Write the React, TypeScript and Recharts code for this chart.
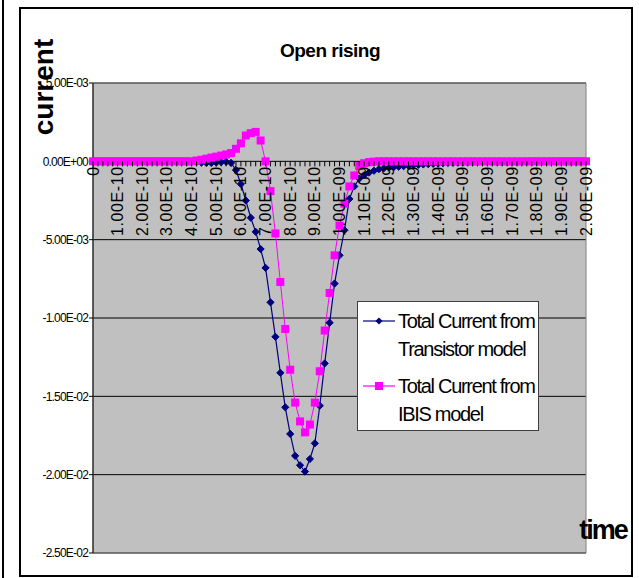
import React from 'react'
import { LineChart, Line, XAxis, YAxis, CartesianGrid, Legend, ReferenceArea } from 'recharts'

// time axis (s), one category per sample
const TIMES = [
  0, 2e-11, 4e-11, 6e-11, 8e-11,
  1e-10, 1.2e-10, 1.4e-10, 1.6e-10, 1.8e-10,
  2e-10, 2.2e-10, 2.4e-10, 2.6e-10, 2.8e-10,
  3e-10, 3.2e-10, 3.4e-10, 3.6e-10, 3.8e-10,
  4e-10, 4.2e-10, 4.4e-10, 4.6e-10, 4.8e-10,
  5e-10, 5.2e-10, 5.4e-10, 5.6e-10, 5.8e-10,
  6e-10, 6.2e-10, 6.4e-10, 6.6e-10, 6.8e-10,
  7e-10, 7.2e-10, 7.4e-10, 7.6e-10, 7.8e-10,
  8e-10, 8.2e-10, 8.4e-10, 8.6e-10, 8.8e-10,
  9e-10, 9.2e-10, 9.4e-10, 9.6e-10, 9.8e-10,
  1e-9, 1.02e-9, 1.04e-9, 1.06e-9, 1.08e-9,
  1.1e-9, 1.12e-9, 1.14e-9, 1.16e-9, 1.18e-9,
  1.2e-9, 1.22e-9, 1.24e-9, 1.26e-9, 1.28e-9,
  1.3e-9, 1.32e-9, 1.34e-9, 1.36e-9, 1.38e-9,
  1.4e-9, 1.42e-9, 1.44e-9, 1.46e-9, 1.48e-9,
  1.5e-9, 1.52e-9, 1.54e-9, 1.56e-9, 1.58e-9,
  1.6e-9, 1.62e-9, 1.64e-9, 1.66e-9, 1.68e-9,
  1.7e-9, 1.72e-9, 1.74e-9, 1.76e-9, 1.78e-9,
  1.8e-9, 1.82e-9, 1.84e-9, 1.86e-9, 1.88e-9,
  1.9e-9, 1.92e-9, 1.94e-9, 1.96e-9, 1.98e-9,
  2e-9,
]

const TRANSISTOR = [
  0, 0, 0, 0, 0, 0, 0, 0, 0, 0,
  0, 0, 0, 0, 0, 0, 0, 0, 0, 0,
  -0.00003, -0.00005, -0.00008, -0.0001, -0.0001, -0.00008, -0.00005, -0.00003, -0.0001, -0.00055,
  -0.00145, -0.0025, -0.0036, -0.0045, -0.0056, -0.0068, -0.009, -0.0112, -0.0135, -0.0157,
  -0.0174, -0.0188, -0.0194, -0.0198, -0.019, -0.018, -0.0156, -0.0129, -0.0103, -0.0078,
  -0.006, -0.0044, -0.0024, -0.0016, -0.0011, -0.00088, -0.00072, -0.0006, -0.0005, -0.00044,
  -0.0004, -0.00037, -0.00034, -0.00031, -0.00028, -0.00025, -0.00022, -0.0002, -0.00018, -0.00016,
  -0.00014, -0.00012, -0.0001, -0.00009, -0.00008, -0.00007, -0.00006, -0.00005, -0.00005, -0.00004,
  -0.00004, -0.00003, -0.00003, -0.00003, -0.00002, -0.00002, -0.00002, -0.00002, -0.00001, -0.00001,
  -0.00001, -0.00001, -0.00001, -0.00001, -0.00001, 0, 0, 0, 0, 0,
  0,
]

const IBIS = [
  0, 0, 0, 0, 0, 0, 0, 0, 0, 0,
  0, 0, 0, 0, 0, 0, 0, 0, 0, 0,
  0, 0.00005, 0.0001, 0.00017, 0.00024, 0.0003, 0.00037, 0.00044, 0.00053, 0.0008,
  0.00115, 0.00165, 0.0018, 0.00188, 0.00133, 0, -0.0019, -0.0046, -0.0077, -0.0107,
  -0.0133, -0.0154, -0.0166, -0.0173, -0.0168, -0.0154, -0.0134, -0.0108, -0.0084, -0.006,
  -0.0041, -0.0027, -0.0016, -0.0009, -0.0003, -0.00012, -0.00005, -0.00002, 0, 0,
  0, 0, 0, 0, 0, 0, 0, 0, 0, 0,
  0, 0, 0, 0, 0, 0, 0, 0, 0, 0,
  0, 0, 0, 0, 0, 0, 0, 0, 0, 0,
  0, 0, 0, 0, 0, 0, 0, 0, 0, 0,
  0,
]

const Y_TICKS = [0.005, 0, -0.005, -0.01, -0.015, -0.02, -0.025]
const SERIES_ORDER = ['transistor', 'ibis']

const NAVY = '#000080'
const MAGENTA = '#FF00FF'
const FONT = "'Liberation Sans', Arial, sans-serif"

const W = 639
const H = 578
const M = { top: 83, right: 53, bottom: 24, left: 0 }
const Y_MIN = -0.025
const Y_MAX = 0.005
const PLOT_BOTTOM = H - M.bottom - 1
// pixel row of the category axis, which crosses the value axis at 0
const Y0 = M.top + ((PLOT_BOTTOM - M.top) * Y_MAX) / (Y_MAX - Y_MIN)

const data = TIMES.map((t, i) => ({ t, transistor: TRANSISTOR[i], ibis: IBIS[i] }))

function sci(v: number, zero: string): string {
  if (v === 0) return zero
  const [m, e] = v.toExponential(2).split('e')
  const n = parseInt(e, 10)
  return `${m}E${n < 0 ? '-' : '+'}${String(Math.abs(n)).padStart(2, '0')}`
}

function TimeTick(props: any) {
  const { x, payload } = props
  const i = payload.index
  return (
    <g>
      <line x1={x} x2={x} y1={Y0} y2={Y0 + 5} stroke="#000" />
      {i % 5 === 0 && (
        <text
          transform={`translate(${x},${Y0 + 5}) rotate(-90)`}
          textAnchor="end"
          dominantBaseline="central"
          fontFamily={FONT}
          fontSize={16}
          letterSpacing={0.6}
          fill="#000"
        >
          {sci(payload.value, '0')}
        </text>
      )}
    </g>
  )
}

function Diamond(props: any) {
  const { cx, cy, key } = props
  if (cx == null || cy == null) return <g key={key} />
  const r = 3.6
  return (
    <polygon
      key={key}
      points={`${cx},${cy - r} ${cx + r},${cy} ${cx},${cy + r} ${cx - r},${cy}`}
      fill={NAVY}
      stroke={NAVY}
    />
  )
}

function Square(props: any) {
  const { cx, cy, key } = props
  if (cx == null || cy == null) return <g key={key} />
  return <rect key={key} x={cx - 4} y={cy - 4} width={8} height={8} fill={MAGENTA} />
}

function LegendBox(props: any) {
  const items = [...(props.payload || [])].sort(
    (a: any, b: any) => SERIES_ORDER.indexOf(a.dataKey) - SERIES_ORDER.indexOf(b.dataKey),
  )
  return (
    <div
      style={{
        width: '100%',
        height: '100%',
        boxSizing: 'border-box',
        background: '#fff',
        border: '1px solid #404040',
        padding: '5px 0 0 4px',
        fontFamily: FONT,
        fontSize: 20,
        letterSpacing: -1.3,
        lineHeight: '28px',
        color: '#000',
        overflow: 'hidden',
      }}
    >
      {items.map((it: any, k: number) => {
        const words = String(it.value).split(' ')
        const square = it.dataKey === 'ibis'
        return (
          <div key={it.value} style={{ display: 'flex', marginTop: k ? 9 : 0 }}>
            <svg width={36} height={28} style={{ flexShrink: 0 }}>
              <line x1={1} x2={33} y1={14} y2={14} stroke={it.color} strokeWidth={1.2} />
              {square ? (
                <rect x={13} y={10} width={8} height={8} fill={it.color} />
              ) : (
                <polygon points="17,10.4 20.6,14 17,17.6 13.4,14" fill={it.color} />
              )}
            </svg>
            <div style={{ whiteSpace: 'nowrap' }}>
              <div>{words.slice(0, 3).join(' ')}</div>
              <div>{words.slice(3).join(' ')}</div>
            </div>
          </div>
        )
      })}
    </div>
  )
}

export default function App() {
  return (
    <div style={{ position: 'absolute', left: 0, top: 0, width: W, height: H, background: '#fff' }}>
      {/* page frames */}
      <div style={{ position: 'absolute', left: 2, top: 0, width: 2, height: H, background: '#000' }} />
      <div
        style={{
          position: 'absolute',
          left: 19,
          top: 7,
          width: 614,
          height: 570,
          boxSizing: 'border-box',
          border: '2px solid #000',
        }}
      />

      <div style={{ position: 'absolute', left: 0, top: 0 }}>
        <LineChart width={W} height={H} data={data} margin={M}>
          <CartesianGrid vertical={false} stroke="#000" fill="#C0C0C0" />
          <XAxis
            dataKey="t"
            height={1}
            interval={0}
            axisLine={false}
            tickLine={false}
            tick={<TimeTick />}
          />
          <YAxis
            width={93}
            domain={[Y_MIN, Y_MAX]}
            ticks={Y_TICKS}
            interval={0}
            tickFormatter={(v: number) => sci(v, '0.00E+00')}
            axisLine={{ stroke: '#000' }}
            tickLine={{ stroke: '#000' }}
            tickSize={4}
            tickMargin={1}
            tick={{ fontFamily: FONT, fontSize: 12, letterSpacing: -0.8, fill: '#000' }}
          />
          <ReferenceArea
            x1={TIMES[0]}
            x2={TIMES[TIMES.length - 1]}
            y1={Y_MIN}
            y2={Y_MAX}
            fill="none"
            stroke="#808080"
          />
          <Line
            dataKey="transistor"
            name="Total Current from Transistor model"
            type="linear"
            stroke={NAVY}
            strokeWidth={1.2}
            dot={Diamond}
            activeDot={false}
            isAnimationActive={false}
          />
          <Line
            dataKey="ibis"
            name="Total Current from IBIS model"
            type="linear"
            stroke={MAGENTA}
            strokeWidth={1}
            dot={Square}
            activeDot={false}
            isAnimationActive={false}
          />
          <Legend
            layout="vertical"
            align="center"
            verticalAlign="middle"
            content={<LegendBox />}
            wrapperStyle={{ left: 357, top: 301, width: 182, height: 130 }}
          />
        </LineChart>
      </div>

      {/* titles */}
      <div
        style={{
          position: 'absolute',
          left: 330,
          top: 50,
          transform: 'translate(-50%, -50%)',
          fontFamily: FONT,
          fontWeight: 'bold',
          fontSize: 19,
          letterSpacing: -0.5,
          whiteSpace: 'nowrap',
          lineHeight: 1,
        }}
      >
        Open rising
      </div>
      <div
        style={{
          position: 'absolute',
          left: 44,
          top: 87,
          transform: 'translate(-50%, -50%) rotate(-90deg)',
          fontFamily: FONT,
          fontWeight: 'bold',
          fontSize: 28,
          whiteSpace: 'nowrap',
          lineHeight: 1,
        }}
      >
        current
      </div>
      <div
        style={{
          position: 'absolute',
          left: 603,
          top: 530,
          transform: 'translate(-50%, -50%)',
          fontFamily: FONT,
          fontWeight: 'bold',
          fontSize: 27,
          letterSpacing: -2,
          whiteSpace: 'nowrap',
          lineHeight: 1,
        }}
      >
        time
      </div>
    </div>
  )
}
